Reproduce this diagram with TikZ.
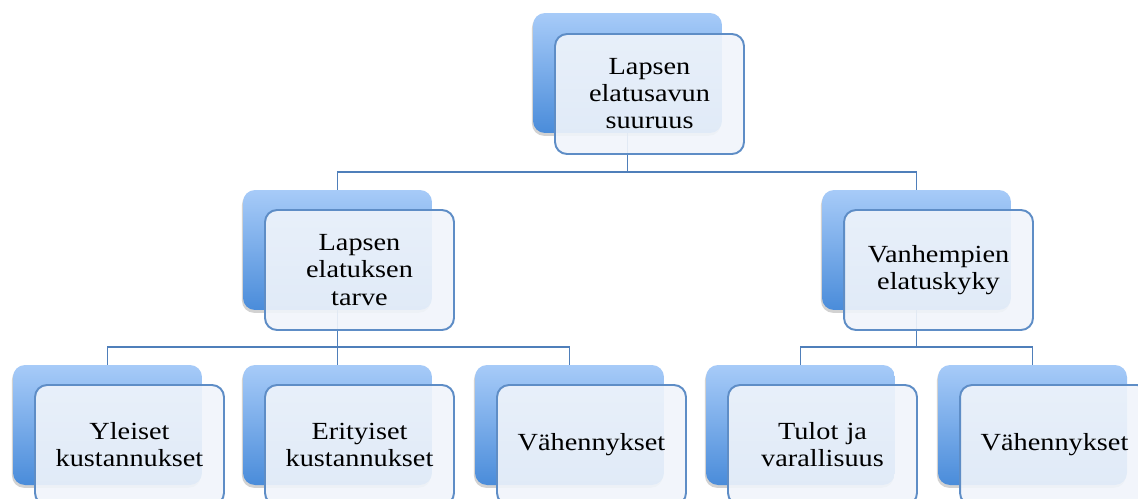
\documentclass[tikz,border=0pt]{standalone}
\usepackage{fontspec}
\setmainfont{Liberation Serif}[FakeStretch=1.15]
\usetikzlibrary{shadows,backgrounds}
\definecolor{linkblue}{HTML}{4F7FBA}
\definecolor{frameblue}{HTML}{5E8DC6}
\definecolor{shadetop}{HTML}{A7CBF8}
\definecolor{shadebot}{HTML}{4A8CDA}
\definecolor{paper}{HTML}{F1F5FB}
\tikzset{
  shadowbox/.style={rounded corners=0.24cm, minimum width=3.78cm, minimum height=2.4cm,
                    inner sep=0pt, top color=shadetop, bottom color=shadebot,
                    drop shadow={shadow xshift=-0.6pt, shadow yshift=-1.6pt, opacity=0.35}},
  textbox/.style={rounded corners=0.24cm, minimum width=3.78cm, minimum height=2.4cm,
                  inner sep=0pt, draw=frameblue, line width=1.1pt, fill=paper, fill opacity=0.9,
                  text opacity=1, align=center, text width=3.5cm,
                  font=\fontsize{14}{15.4}\selectfont},
  link/.style={draw=linkblue, line width=1pt}
}
\begin{document}
\begin{tikzpicture}[x=0.02cm, y=-0.02cm]
      \clip (0, 0) rectangle (1138, 498);
      \node[shadowbox] (sumb) at (627.5, 73) {};
      \node[textbox] (sum) at (649.5, 94) {Lapsen\\elatusavun\\suuruus};
      \node[shadowbox] (needb) at (337.5, 250) {};
      \node[textbox] (need) at (359.5, 270) {Lapsen\\elatuksen\\tarve};
      \node[shadowbox] (capb) at (916.5, 250) {};
      \node[textbox] (cap) at (938.5, 270) {Vanhempien\\elatuskyky};
      \node[shadowbox] (genb) at (107.5, 425) {};
      \node[textbox] (gen) at (129.5, 445) {Yleiset\\kustannukset};
      \node[shadowbox] (specb) at (337.5, 425) {};
      \node[textbox] (spec) at (359.5, 445) {Erityiset\\kustannukset};
      \node[shadowbox] (dedab) at (569.5, 425) {};
      \node[textbox] (deda) at (591.5, 445) {Vähennykset};
      \node[shadowbox] (incb) at (800.5, 425) {};
      \node[textbox] (inc) at (822.5, 445) {Tulot ja\\varallisuus};
      \node[shadowbox] (dedbb) at (1032.5, 425) {};
      \node[textbox] (dedb) at (1054.5, 445) {Vähennykset};
      \begin{pgfonlayer}{background}
      \fill[white] (0, 0) rectangle (1138, 498);
      \draw[link] (sumb.south) -- ++(0, 39) -| (needb.north)
                  (sumb.south) -- ++(0, 39) -| (capb.north);
      \draw[link] (needb.south) -- ++(0, 37) -| (genb.north)
                  (needb.south) -- ++(0, 37) -| (specb.north)
                  (needb.south) -- ++(0, 37) -| (dedab.north);
      \draw[link] (capb.south) -- ++(0, 37) -| (incb.north)
                  (capb.south) -- ++(0, 37) -| (dedbb.north);
      \end{pgfonlayer}
\end{tikzpicture}
\end{document}
